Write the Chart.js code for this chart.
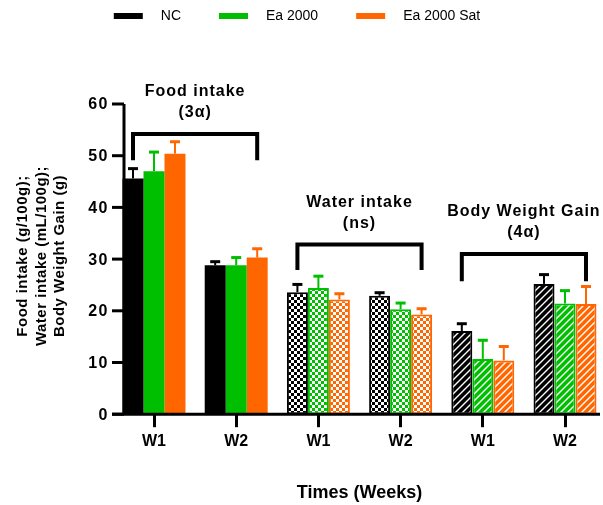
<!DOCTYPE html>
<html>
<head>
<meta charset="utf-8">
<script src="https://cdn.jsdelivr.net/npm/chart.js@4.4.1/dist/chart.umd.min.js"></script>
<style>
    html, body { margin: 0; padding: 0; background: #fff; }
    #wrap { width: 603px; height: 505px; position: relative; }
</style>
</head>
<body>
<div id="wrap"><canvas id="myChart"></canvas></div>
<script>
var categories = ['W1', 'W2', 'W1', 'W2', 'W1', 'W2'];
var seriesNames = ['NC', 'Ea 2000', 'Ea 2000 Sat'];
var ncMean = [45.6, 28.8, 23.6, 22.9, 16.1, 25.2];
var ncErr = [1.9, 0.7, 1.5, 0.6, 1.4, 1.8];
var eaMean = [47.0, 28.8, 24.4, 20.3, 10.7, 21.4];
var eaErr = [3.7, 1.5, 2.3, 1.2, 3.6, 2.5];
var satMean = [50.4, 30.3, 22.2, 19.3, 10.4, 21.3];
var satErr = [2.3, 1.7, 1.1, 1.1, 2.7, 3.4];
var yTicks = [0, 10, 20, 30, 40, 50, 60];
var yTitle = ['Food intake (g/100g);', 'Water intake (mL/100g);', 'Body Weight Gain (g)'];
var xTitle = 'Times (Weeks)';
// groups joined by each bracket, bracket top and leg end (axis units), labels
var bracketGroups = [[0, 1], [2, 3], [4, 5]];
var bracketTop = [54.2, 32.8, 31.0];
var bracketEnd = [49.1, 27.9, 25.7];
var bracketLabels = [['Food intake', '(3\u03b1)'], ['Water intake', '(ns)'], ['Body Weight Gain', '(4\u03b1)']];

var colors_ = ['#000000', '#00BF00', '#FF6600'];
var FONT = "'Liberation Sans', Arial, sans-serif";

function checker(color) {
    var c = document.createElement('canvas');
    c.width = 6; c.height = 6;
    var g = c.getContext('2d');
    g.fillStyle = '#ffffff';
    g.fillRect(0, 0, 6, 6);
    g.fillStyle = color;
    g.fillRect(0, 0, 3, 3);
    g.fillRect(3, 3, 3, 3);
    return g.createPattern(c, 'repeat');
}
function hatch(color) {
    var s = 7;
    var c = document.createElement('canvas');
    c.width = s; c.height = s;
    var g = c.getContext('2d');
    g.fillStyle = color;
    g.fillRect(0, 0, s, s);
    g.strokeStyle = '#ffffff';
    g.lineWidth = 1.4;
    g.beginPath();
    g.moveTo(0, s); g.lineTo(s, 0);
    g.moveTo(-2, 2); g.lineTo(2, -2);
    g.moveTo(s - 2, s + 2); g.lineTo(s + 2, s - 2);
    g.stroke();
    return g.createPattern(c, 'repeat');
}
function fills(color) {
    var p1 = checker(color), p2 = hatch(color);
    return [color, color, p1, p1, p2, p2];
}
function makeSet(i, values) {
    return {
        label: seriesNames[i],
        data: values,
        backgroundColor: fills(colors_[i]),
        borderColor: colors_[i],
        borderWidth: [0, 0, 2, 2, 2, 2],
        borderSkipped: false,
        barPercentage: 1,
        categoryPercentage: 0.766,
        clip: false
    };
}
var errs = [ncErr, eaErr, satErr];

var extras = {
    id: 'extras',
    afterDatasetsDraw: function (chart) {
        var ctx = chart.ctx;
        var y = chart.scales.y;
        var area = chart.chartArea;
        var axisX = area.left - 30;
        var y0 = y.getPixelForValue(0);
        ctx.save();
        ctx.fillStyle = '#000';
        ctx.strokeStyle = '#000';

        // error bars (upper only)
        chart.data.datasets.forEach(function (ds, i) {
            var meta = chart.getDatasetMeta(i);
            ctx.strokeStyle = colors_[i];
            meta.data.forEach(function (el, j) {
                var top = y.getPixelForValue(ds.data[j] + errs[i][j]);
                ctx.lineWidth = 2;
                ctx.beginPath();
                ctx.moveTo(el.x, el.y);
                ctx.lineTo(el.x, top);
                ctx.stroke();
                ctx.lineWidth = 3;
                ctx.beginPath();
                ctx.moveTo(el.x - 5, top);
                ctx.lineTo(el.x + 5, top);
                ctx.stroke();
            });
        });

        // axes
        ctx.strokeStyle = '#000';
        ctx.lineWidth = 3;
        ctx.beginPath();
        ctx.moveTo(axisX, y.getPixelForValue(60));
        ctx.lineTo(axisX, y0);
        ctx.moveTo(axisX - 12, y0);
        ctx.lineTo(600, y0);
        ctx.stroke();
        ctx.font = 'bold 16px ' + FONT;
        ctx.letterSpacing = '1.5px';
        ctx.textAlign = 'right';
        ctx.textBaseline = 'middle';
        yTicks.forEach(function (v) {
            var py = y.getPixelForValue(v);
            ctx.beginPath();
            ctx.moveTo(axisX - 12, py);
            ctx.lineTo(axisX, py);
            ctx.stroke();
            ctx.fillText(String(v), axisX - 15, py + 1);
        });

        // y title
        ctx.font = 'bold 15px ' + FONT;
        ctx.letterSpacing = '0.5px';
        ctx.textAlign = 'center';
        var titleX = [23, 41.5, 60];
        yTitle.forEach(function (t, k) {
            ctx.save();
            ctx.translate(titleX[k], 256);
            ctx.rotate(-Math.PI / 2);
            ctx.fillText(t, 0, 0);
            ctx.restore();
        });

        // brackets
        var first = chart.getDatasetMeta(0).data;
        var last = chart.getDatasetMeta(2).data;
        ctx.lineWidth = 4;
        ctx.font = 'bold 16px ' + FONT;
        ctx.letterSpacing = '1px';
        bracketGroups.forEach(function (g, k) {
            var x1 = first[g[0]].x, x2 = last[g[1]].x;
            var yt = y.getPixelForValue(bracketTop[k]);
            var ye = y.getPixelForValue(bracketEnd[k]);
            ctx.beginPath();
            ctx.moveTo(x1, ye);
            ctx.lineTo(x1, yt);
            ctx.lineTo(x2, yt);
            ctx.lineTo(x2, ye);
            ctx.stroke();
            var cx = (x1 + x2) / 2;
            ctx.fillText(bracketLabels[k][0], cx, yt - 42);
            ctx.fillText(bracketLabels[k][1], cx, yt - 21);
        });

        // legend
        ctx.font = '14px ' + FONT;
        ctx.letterSpacing = '0px';
        ctx.textAlign = 'left';
        var widths = seriesNames.map(function (n) { return ctx.measureText(n).width; });
        var total = 0;
        widths.forEach(function (w) { total += 29 + 18 + w; });
        total += 38 * (seriesNames.length - 1);
        var lx = 297 - total / 2;
        seriesNames.forEach(function (n, i) {
            ctx.fillStyle = colors_[i];
            ctx.fillRect(lx, 13, 29, 6);
            ctx.fillStyle = '#000';
            ctx.fillText(n, lx + 47, 16);
            lx += 29 + 18 + widths[i] + 38;
        });
        ctx.restore();
    }
};

Chart.defaults.font.family = FONT;
Chart.defaults.color = '#000';

var myChart = new Chart(document.getElementById('myChart'), {
    type: 'bar',
    data: {
        labels: categories,
        datasets: [makeSet(0, ncMean), makeSet(1, eaMean), makeSet(2, satMean)]
    },
    options: {
        responsive: true,
        maintainAspectRatio: false,
        animation: false,
        layout: { padding: { left: 154, right: 38, top: 104, bottom: 1 } },
        plugins: {
            legend: { display: false },
            tooltip: { enabled: false }
        },
        scales: {
            x: {
                offset: false,
                grid: {
                    offset: false,
                    drawOnChartArea: false,
                    drawTicks: true,
                    tickLength: 13,
                    lineWidth: 3,
                    color: '#000'
                },
                border: { display: false },
                ticks: { font: { size: 16, weight: 'bold' }, padding: 5, color: '#000' },
                title: {
                    display: true,
                    text: xTitle,
                    font: { size: 18, weight: 'bold' },
                    padding: { top: 26, bottom: 0 },
                    color: '#000'
                }
            },
            y: {
                display: false,
                min: 0,
                max: 60
            }
        }
    },
    plugins: [extras]
});
</script>
</body>
</html>
